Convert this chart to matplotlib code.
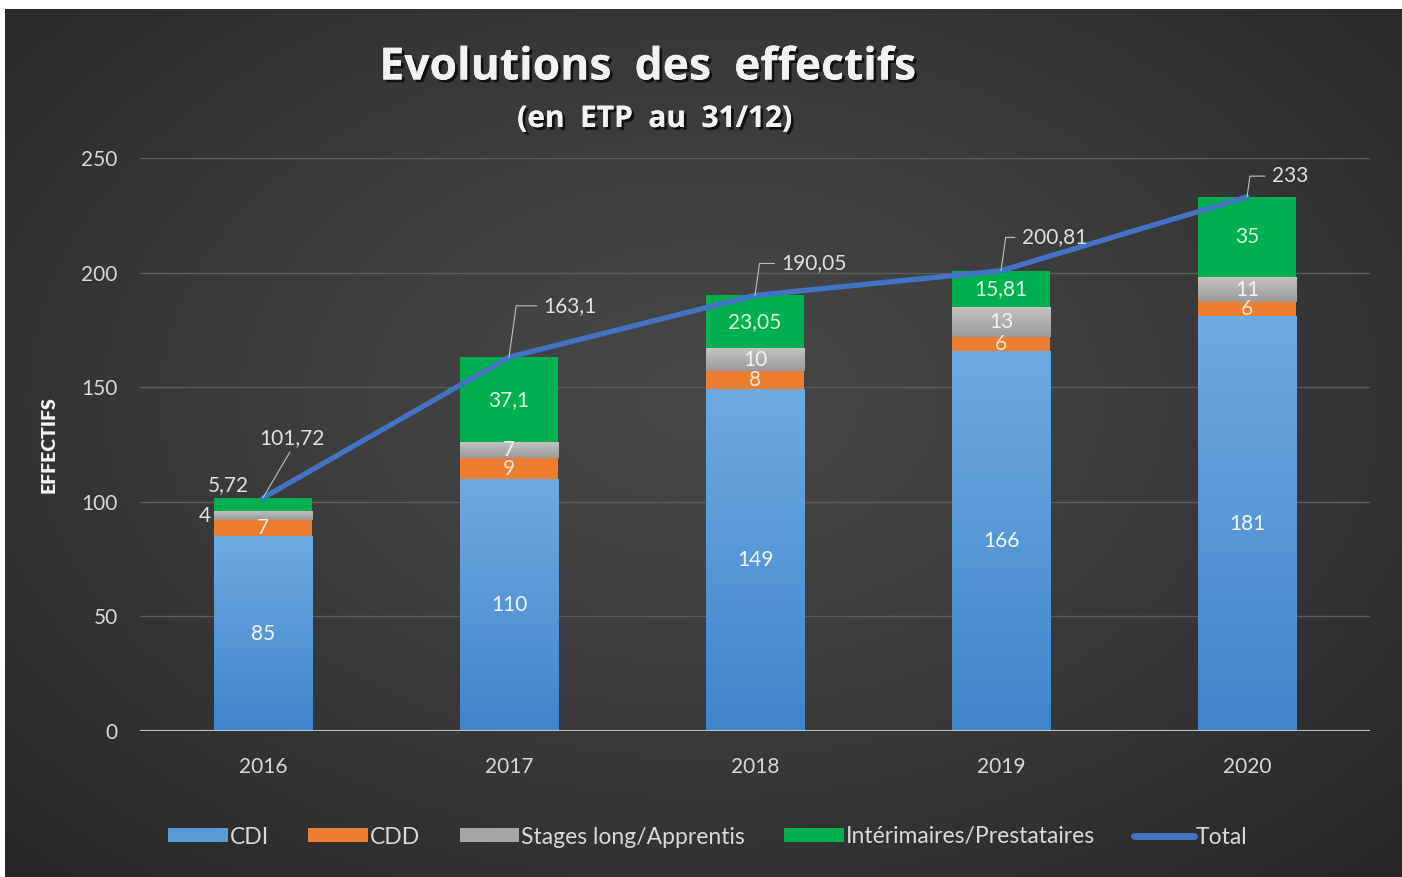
import matplotlib.pyplot as plt
import matplotlib.patheffects as pe
import numpy as np

plt.rcParams['font.family'] = ['Lato', 'DejaVu Sans']

# Données (ETP au 31/12)
annees = ['2016', '2017', '2018', '2019', '2020']
cdi = [85, 110, 149, 166, 181]
cdd = [7, 9, 8, 6, 6]
stages = [4, 7, 10, 13, 11]
interim = [5.72, 37.1, 23.05, 15.81, 35]
total = [101.72, 163.1, 190.05, 200.81, 233]

series = [
    ('CDI', cdi, '#5b9bd5', '#f2f6fb'),
    ('CDD', cdd, '#ed7d31', '#fde8d6'),
    ('Stages long/Apprentis', stages, '#a5a5a5', '#f2f2f2'),
    ('Intérimaires/Prestataires', interim, '#00b050', '#ddf5e4'),
]


def fmt(v):
    return f'{v:g}'.replace('.', ',')


fig = plt.figure(figsize=(14.02, 8.77), dpi=100, facecolor='white')

# Fond dégradé (style Excel sombre)
bg = fig.add_axes([5 / 1402, 0, 1 - 5 / 1402, 1 - 9 / 877], zorder=-10)
yy, xx = np.mgrid[0:1:200j, 0:1:320j]
r = np.sqrt(((xx - 0.5) / 0.75) ** 2 + ((yy - 0.45) / 0.8) ** 2)
val = 0x47 - (0x47 - 0x24) * np.clip(r, 0, 1) ** 1.3
img = np.dstack([val, val, val]) / 255.0
bg.imshow(img, aspect='auto', extent=[0, 1, 1, 0], interpolation='bicubic')
bg.set_axis_off()

ax = fig.add_axes([140 / 1402, 146 / 877, 1230 / 1402, 573 / 877])
ax.set_facecolor('none')
x = np.arange(len(annees))
largeur = 0.4

bottom = np.zeros(len(annees))
conteneurs = []
for nom, vals, couleur, _ in series:
    bars = ax.bar(x, vals, largeur, bottom=bottom, color=couleur, label=nom,
                  zorder=3, linewidth=0)
    conteneurs.append(bars)
    bottom += np.array(vals)

# Dégradé vertical sur CDI et stages
grad = np.linspace(0, 1, 100).reshape(-1, 1)
for idx, (haut, bas) in [(0, ('#6eaae2', '#3f85cc')), (2, ('#c4c4c4', '#9a9a9a'))]:
    c1 = np.array([int(haut[i:i + 2], 16) for i in (1, 3, 5)]) / 255
    c2 = np.array([int(bas[i:i + 2], 16) for i in (1, 3, 5)]) / 255
    g = c1 * (1 - grad[..., None]) + c2 * grad[..., None]
    g = np.repeat(g, 2, axis=1)
    for p in conteneurs[idx]:
        x0, y0, w, h = p.get_x(), p.get_y(), p.get_width(), p.get_height()
        im = ax.imshow(g, extent=[x0, x0 + w, y0, y0 + h], aspect='auto',
                       origin='upper', zorder=3.5, interpolation='bilinear')
        im.set_clip_path(p)

# Étiquettes des segments
for (nom, vals, couleur, tcol), bars in zip(series, conteneurs):
    for i, p in enumerate(bars):
        cx = p.get_x() + p.get_width() / 2
        cy = p.get_y() + p.get_height() / 2
        txt = fmt(vals[i])
        if i == 0 and nom == 'Stages long/Apprentis':
            ax.annotate(txt, (p.get_x(), cy), xytext=(-2, 0), textcoords='offset points',
                        ha='right', va='center', color='#e0e0e0', fontsize=15, zorder=6)
        elif i == 0 and nom.startswith('Int'):
            ax.annotate(txt, (cx, cy), xytext=(-25, 14), textcoords='offset points',
                        ha='center', va='center', color='#e0e0e0', fontsize=15, zorder=6)
        else:
            ax.text(cx, cy, txt, ha='center', va='center', color=tcol, fontsize=15, zorder=6)

# Courbe du total
ax.plot(x, total, color='#4472c4', linewidth=3.8, label='Total', zorder=5,
        solid_capstyle='round', solid_joinstyle='round')

decalages = [(21, 43), (25, 37), (19, 23), (15, 24), (18, 15)]
for i, (v, off) in enumerate(zip(total, decalages)):
    if i == 0:
        ax.annotate(fmt(v), (x[i], v), xytext=off, textcoords='offset points',
                    ha='center', va='center', color='#e0e0e0', fontsize=15, zorder=7,
                    arrowprops=dict(arrowstyle='-', color='#bfbfbf', lw=0.8,
                                    shrinkA=1, shrinkB=0, relpos=(0.5, 0)))
    else:
        ax.annotate(fmt(v), (x[i], v), xytext=off, textcoords='offset points',
                    ha='left', va='center', color='#e0e0e0', fontsize=15, zorder=7,
                    arrowprops=dict(arrowstyle='-', color='#bfbfbf', lw=0.8,
                                    shrinkA=3, shrinkB=0, relpos=(0, 0.5),
                                    connectionstyle='angle,angleA=0,angleB=82,rad=0'))

ax.set_xlim(-0.5, len(annees) - 0.5)
ax.set_ylim(0, 250)
ax.set_yticks(np.arange(0, 251, 50))
ax.set_xticks(x)
ax.set_xticklabels(annees)
ax.tick_params(axis='both', length=0, colors='#d9d9d9', labelsize=15)
ax.tick_params(axis='x', pad=19)
ax.tick_params(axis='y', pad=16)
ax.grid(axis='y', color='#5c5c5c', linewidth=1, zorder=0)
ax.axhline(0, color='#bfbfbf', linewidth=1.5, zorder=4)
for s in ax.spines.values():
    s.set_visible(False)

ax.set_ylabel('EFFECTIFS', color='#f2f2f2', fontsize=14, fontweight='heavy')
ax.yaxis.set_label_coords(-0.0667, 0.5)

ombre = [pe.withSimplePatchShadow(offset=(2, -2), shadow_rgbFace='black', alpha=0.7), pe.Normal()]
fig.text(648 / 1402, 1 - 68 / 877, 'Evolutions  des  effectifs', ha='center', va='center',
         fontsize=32, fontweight='bold', color='#f2f2f2', path_effects=ombre,
         family=['Open Sans', 'DejaVu Sans'])
fig.text(655 / 1402, 1 - 119 / 877, '(en  ETP  au  31/12)', ha='center', va='center',
         fontsize=21.5, fontweight='bold', color='#f2f2f2', path_effects=ombre,
         family=['Open Sans', 'DejaVu Sans'])

handles, labels = ax.get_legend_handles_labels()
ordre = [labels.index(s[0]) for s in series] + [labels.index('Total')]
leg = ax.legend([handles[k] for k in ordre], [labels[k] for k in ordre],
                loc='center', bbox_to_anchor=(708 / 1402, 1 - 837 / 877),
                bbox_transform=fig.transFigure, ncol=5, frameon=False, fontsize=16.5,
                handlelength=2.6, handleheight=0.55, handletextpad=0.1,
                columnspacing=1.7, labelcolor='#d9d9d9')
for h in leg.legend_handles:
    if hasattr(h, 'set_solid_capstyle'):
        h.set_linewidth(5)
        h.set_solid_capstyle('round')

plt.savefig('out.png', dpi=100, facecolor=fig.get_facecolor())
